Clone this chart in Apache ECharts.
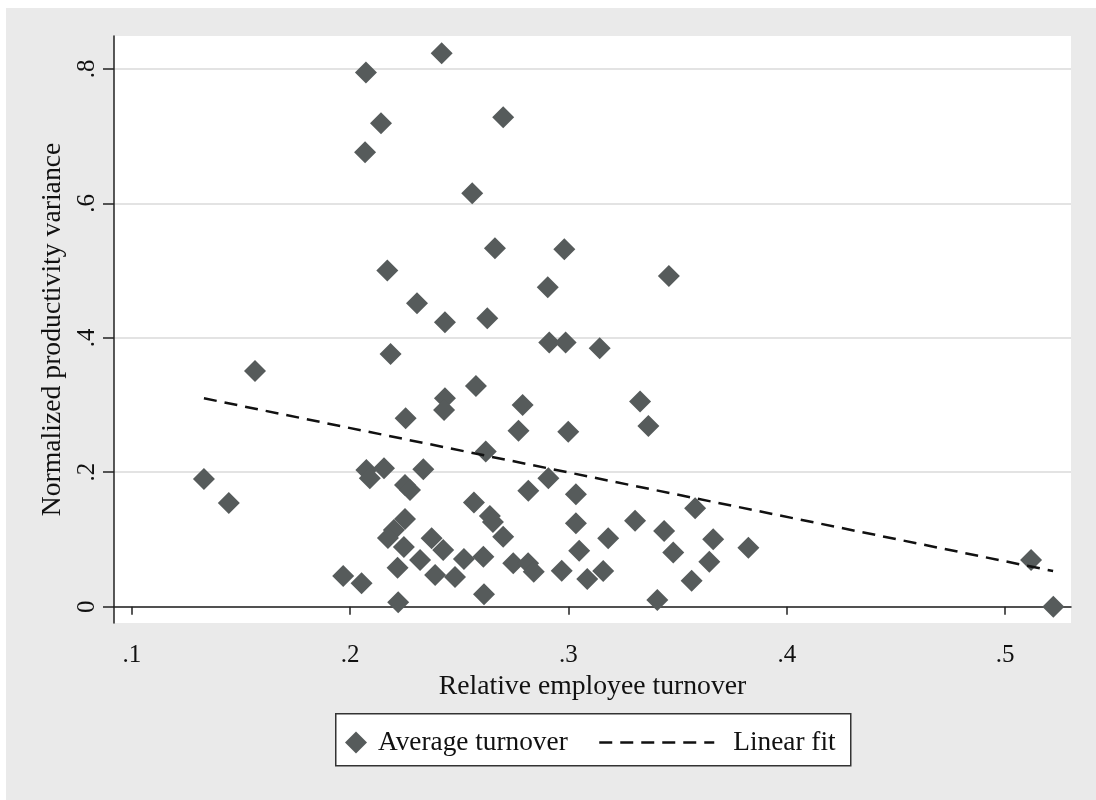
<!DOCTYPE html>
<html>
<head>
<meta charset="utf-8">
<script src="https://cdn.jsdelivr.net/npm/echarts@6/dist/echarts.min.js"></script>
<style>
  html, body { margin: 0; padding: 0; background: #fff; }
  #chart { position: absolute; left: 6px; top: 8px; width: 1090px; height: 792px; }
</style>
</head>
<body>
<div id="chart"></div>
<script>
// relative employee turnover (x) and normalized productivity variance (y), one pair per firm
const turnover = [
  0.2419, 0.2072, 0.2701, 0.2141, 0.2068, 0.2559, 0.2663, 0.2981, 0.2170, 0.3460,
  0.2905, 0.2306, 0.2628, 0.2434, 0.2912, 0.2987, 0.3143, 0.2185, 0.1564, 0.2576,
  0.2434, 0.3328, 0.2430, 0.2790, 0.2254, 0.3366, 0.2771, 0.2999, 0.2621, 0.1330,
  0.1444, 0.2074, 0.2090, 0.2155, 0.2335, 0.2251, 0.2274, 0.2908, 0.2816, 0.3034,
  0.2567, 0.3580, 0.2640, 0.2654, 0.3034, 0.3305, 0.3438, 0.2251, 0.2200, 0.2173,
  0.2246, 0.2701, 0.3182, 0.3663, 0.3824, 0.3049, 0.3480, 0.3645, 0.2373, 0.2426,
  0.2320, 0.2389, 0.2521, 0.2480, 0.2610, 0.2747, 0.2815, 0.2841, 0.2969, 0.3159,
  0.3086, 0.3564, 0.3407, 0.2613, 0.2217, 0.1968, 0.2052, 0.2220, 0.5119, 0.5221
];
const variance = [
  0.8235, 0.7946, 0.7283, 0.7193, 0.6762, 0.6152, 0.5333, 0.5318, 0.5000, 0.4921,
  0.4753, 0.4515, 0.4292, 0.4232, 0.3929, 0.3929, 0.3845, 0.3760, 0.3507, 0.3284,
  0.3101, 0.3051, 0.2927, 0.3001, 0.2804, 0.2689, 0.2619, 0.2604, 0.2307, 0.1900,
  0.1544, 0.2034, 0.1911, 0.2060, 0.2045, 0.1811, 0.1737, 0.1911, 0.1726, 0.1673,
  0.1548, 0.1464, 0.1350, 0.1260, 0.1241, 0.1280, 0.1126, 0.1305, 0.1141, 0.1022,
  0.0888, 0.1042, 0.1018, 0.1003, 0.0878, 0.0833, 0.0804, 0.0670, 0.1018, 0.0844,
  0.0695, 0.0472, 0.0710, 0.0442, 0.0744, 0.0646, 0.0646, 0.0521, 0.0536, 0.0531,
  0.0412, 0.0387, 0.0100, 0.0185, 0.0580, 0.0457, 0.0348, 0.0065, 0.0695, 0.0000
];
// linear fit (ends of the dashed line)
const fitTurnover = [0.133, 0.522];
const fitVariance = [0.310, 0.053];
const xTicks = [0.1, 0.2, 0.3, 0.4, 0.5];
const yTicks = [0, 0.2, 0.4, 0.6, 0.8];

const points = turnover.map((x, i) => [x, variance[i]]);
const fitLine = fitTurnover.map((x, i) => [x, fitVariance[i]]);
const serif = "'Liberation Serif', 'Times New Roman', serif";
const stataLabel = v => (v === 0 ? '0' : String(+v.toFixed(1)).replace(/^0/, ''));
const dash = { color: '#111', width: 2.5, type: [13, 8] };

const chart = echarts.init(document.getElementById('chart'));
chart.setOption({
  animation: false,
  backgroundColor: '#eaeaea',
  textStyle: { fontFamily: serif },
  grid: {
    left: 108, right: 25, top: 28, bottom: 177,
    show: true, backgroundColor: '#fff', borderWidth: 0
  },
  xAxis: {
    type: 'value',
    min: 0.0918,
    max: 0.5302,
    name: 'Relative employee turnover',
    nameLocation: 'middle',
    nameGap: 49,
    nameTextStyle: { fontFamily: serif, fontSize: 27.7, color: '#111' },
    axisLine: { show: true, lineStyle: { color: '#222', width: 1.5 } },
    axisTick: { show: true, length: 8, customValues: xTicks, lineStyle: { color: '#222', width: 1.5 } },
    axisLabel: {
      customValues: xTicks, formatter: stataLabel, margin: 20,
      fontFamily: serif, fontSize: 25, color: '#111'
    },
    splitLine: { show: false }
  },
  yAxis: {
    type: 'value',
    min: -0.0243,
    max: 0.849,
    name: 'Normalized productivity variance',
    nameLocation: 'middle',
    nameRotate: 90,
    nameGap: 45,
    nameTextStyle: { fontFamily: serif, fontSize: 27.7, color: '#111' },
    axisLine: { show: true, lineStyle: { color: '#222', width: 1.5 } },
    axisTick: { show: true, length: 11, customValues: yTicks, lineStyle: { color: '#222', width: 1.5 } },
    axisLabel: {
      customValues: yTicks, formatter: stataLabel, rotate: 90, margin: 14,
      fontFamily: serif, fontSize: 25, color: '#111'
    },
    splitLine: { show: true, lineStyle: { color: '#e3e3e3', width: 2 } }
  },
  legend: [
    {
      data: ['Average turnover'],
      left: 339, top: 721,
      padding: 0, itemWidth: 22, itemHeight: 22,
      textStyle: { fontFamily: serif, fontSize: 27.3, color: '#111', padding: [0, 0, 0, 6] },
      z: 10
    },
    {
      data: ['Linear fit'],
      left: 592, top: 721,
      padding: 0, itemWidth: 115, itemHeight: 22,
      itemStyle: { color: 'transparent', borderWidth: 0, opacity: 0 },
      lineStyle: dash,
      textStyle: { fontFamily: serif, fontSize: 27.3, color: '#111', padding: [0, 0, 0, 14] },
      z: 10
    }
  ],
  graphic: [{
    type: 'rect', left: 329, top: 705, z: 1,
    shape: { width: 515, height: 52 },
    style: { fill: '#fff', stroke: '#333', lineWidth: 1.5 }
  }],
  series: [
    {
      name: 'Average turnover',
      type: 'scatter',
      symbol: 'diamond',
      symbolSize: 22,
      itemStyle: { color: '#565b5b', opacity: 1 },
      data: points
    },
    {
      name: 'Linear fit',
      type: 'line',
      symbol: 'none',
      lineStyle: dash,
      itemStyle: { color: '#111' },
      data: fitLine,
      z: 3
    }
  ]
});
</script>
</body>
</html>
